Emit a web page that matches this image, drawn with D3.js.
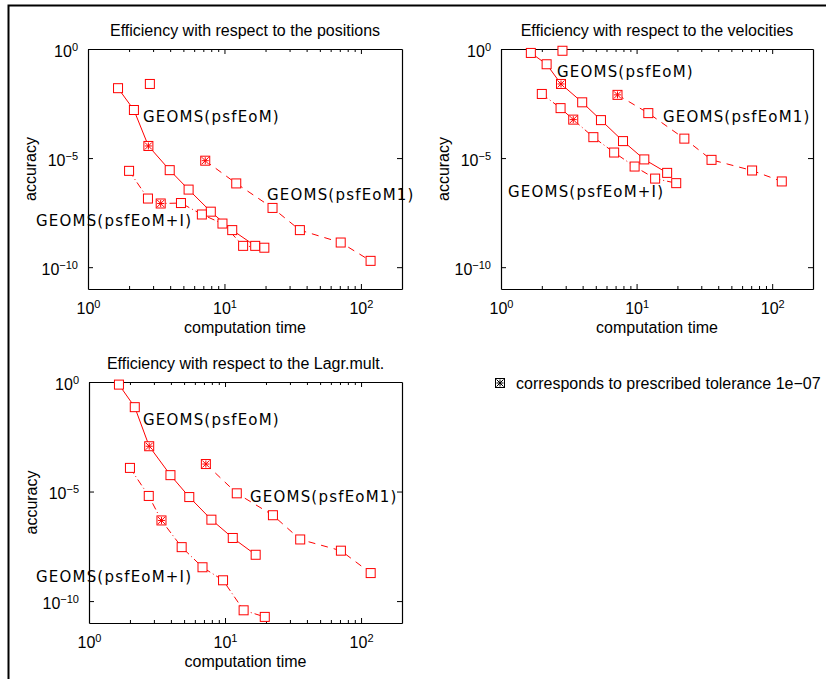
<!DOCTYPE html>
<html>
<head>
<meta charset="utf-8">
<script src="https://cdn.jsdelivr.net/npm/d3@7"></script>
<style>
body { margin: 0; background: #fff; }
svg { display: block; font-family: "Liberation Sans", Arial, sans-serif; }
.axis path, .axis line { stroke: #000; }
.geoms { font-family: "DejaVu Sans", sans-serif; font-size: 15px; letter-spacing: 1.2px; fill: #000; }
</style>
</head>
<body>
<svg width="832" height="679"></svg>
<script>
// computation times (same runs in every panel)
const timesEoM  = [1.66, 2.17, 2.77, 3.97, 5.46, 7.94, 11.4, 16.8]
const timesEoMI = [2.00, 2.75, 3.41, 4.80, 6.83, 9.67, 13.7, 19.6]
const timesEoM1 = [2.84, 7.23, 12.2, 22.5, 35.7, 71.1, 117.7]

// index of the point computed with prescribed tolerance 1e-07
const tolIndexEoM = 2
const tolIndexEoMI = 2
const tolIndexEoM1 = 1

// accuracies, positions
const posEoM  = [1.6e-2, 1.6e-3, 3.6e-5, 2.8e-6, 3.6e-7, 3.5e-8, 5.0e-9, 9.5e-10]
const posEoMI = [2.6e-6, 1.4e-7, 8.3e-8, 8.7e-8, 2.6e-8, 1.0e-8, 9.5e-10, 7.8e-10]
const posEoM1 = [2.5e-2, 7.6e-6, 6.9e-7, 5.2e-8, 5.0e-9, 1.35e-9, 1.95e-10]

// accuracies, velocities
const velEoM  = [0.66, 0.20, 2.5e-2, 3.6e-3, 5.5e-4, 6.0e-5, 8.7e-6, 2.1e-6]
const velEoMI = [8.7e-3, 1.95e-3, 5.8e-4, 9.1e-5, 1.8e-5, 4.1e-6, 1.15e-6, 7.1e-7]
const velEoM1 = [0.83, 7.9e-3, 1.15e-3, 7.8e-5, 8.3e-6, 2.7e-6, 8.5e-7]

// accuracies, Lagrange multipliers (first psfEoM1 run lies off the plot)
const lagEoM  = [0.76, 7.1e-2, 1.17e-3, 5.6e-5, 5.6e-6, 5.2e-7, 7.6e-8, 1.3e-8]
const lagEoMI = [1.2e-4, 6.3e-6, 4.8e-7, 2.9e-8, 3.5e-9, 8.9e-10, 3.8e-11, 1.9e-11]
const lagEoM1 = [null, 1.8e-4, 8.3e-6, 8.3e-7, 6.5e-8, 2.0e-8, 1.9e-9]

const xTicks = [1, 10, 100]
const yTicks = [1, 1e-5, 1e-10]
const xTickExp = ["0", "1", "2"]
const yTickExp = ["0", "\u22125", "\u221210"]

const svg = d3.select("svg")

// outer frame
svg.append("path")
    .attr("d", "M8.5,679 L8.5,5.5 L826,5.5")
    .attr("fill", "none")
    .attr("stroke", "#000")
    .attr("stroke-width", 2)

const panels = [
    {title: "Efficiency with respect to the positions", x0: 88, y0: 49, x1: 402, y1: 289,
     acc: [posEoM, posEoMI, posEoM1],
     labels: [[55, 68], [-52, 172], [179, 146]]},
    {title: "Efficiency with respect to the velocities", x0: 501, y0: 49, x1: 813, y1: 289,
     acc: [velEoM, velEoMI, velEoM1],
     labels: [[56, 23], [7, 143], [162, 68]]},
    {title: "Efficiency with respect to the Lagr.mult.", x0: 89, y0: 382, x1: 402, y1: 623,
     acc: [lagEoM, lagEoMI, lagEoM1],
     labels: [[54, 38], [-53, 195], [161, 115]]}
]

const seriesNames = ["GEOMS(psfEoM)", "GEOMS(psfEoM+I)", "GEOMS(psfEoM1)"]
const seriesTimes = [timesEoM, timesEoMI, timesEoM1]
const seriesTol = [tolIndexEoM, tolIndexEoMI, tolIndexEoM1]
const seriesDash = [null, "7,3,1,3", "7,6"]

const drawMarker = function(g, x, y, color, star) {
    const s = 4.5
    g.append("rect")
        .attr("x", x - s).attr("y", y - s)
        .attr("width", 2 * s).attr("height", 2 * s)
        .attr("fill", "#fff")
        .attr("stroke", color)
    if (star) {
        const r = s - 1
        const d = `M${x - r},${y}L${x + r},${y}M${x},${y - r}L${x},${y + r}` +
            `M${x - r},${y - r}L${x + r},${y + r}M${x - r},${y + r}L${x + r},${y - r}`
        g.append("path").attr("d", d).attr("stroke", color).attr("stroke-width", 1)
    }
}

const superLabel = function(sel, exps) {
    sel.each(function(d, i) {
        const t = d3.select(this)
        t.text("")
        t.append("tspan").text("10")
        t.append("tspan").attr("dy", "-0.55em").attr("font-size", "11px").text(exps[i])
    })
}

panels.forEach((p, pi) => {
    const scaleX = d3.scaleLog().domain([1, 200]).range([p.x0, p.x1])
    const scaleY = d3.scaleLog().domain([1e-11, 1]).range([p.y1, p.y0])
    const w = p.x1 - p.x0
    const h = p.y1 - p.y0
    const g = svg.append("g").attr("class", "panel")

    // clip path for the lines
    g.append("clipPath").attr("id", "clip" + pi)
        .append("rect").attr("x", p.x0).attr("y", p.y0).attr("width", w).attr("height", h)

    // title
    g.append("text")
        .attr("x", (p.x0 + p.x1) / 2).attr("y", p.y0 - 13)
        .attr("text-anchor", "middle").attr("font-size", "16px")
        .text(p.title)

    // minor x ticks (inward, bottom and top)
    const minor = []
    for (let dec = 1; dec <= 100; dec *= 10)
        for (let k = 2; k <= 9; k++) if (k * dec < 200) minor.push(k * dec)

    g.append("g").attr("class", "axis")
        .attr("transform", `translate(0,${p.y1})`)
        .call(d3.axisBottom(scaleX).tickValues(minor).tickSize(-3).tickFormat(""))
        .call(a => a.select(".domain").remove())
    g.append("g").attr("class", "axis")
        .attr("transform", `translate(0,${p.y0})`)
        .call(d3.axisTop(scaleX).tickValues(minor).tickSize(-3).tickFormat(""))
        .call(a => a.select(".domain").remove())

    // major ticks
    const xb = g.append("g").attr("class", "axis")
        .attr("transform", `translate(0,${p.y1})`)
        .call(d3.axisBottom(scaleX).tickValues(xTicks).tickSize(-5).tickSizeOuter(0).tickPadding(14))
    xb.selectAll("text").attr("font-size", "16px").attr("font-family", "Liberation Sans, Arial, sans-serif")
        .attr("fill", "#000").call(superLabel, xTickExp)
    g.append("g").attr("class", "axis")
        .attr("transform", `translate(0,${p.y0})`)
        .call(d3.axisTop(scaleX).tickValues(xTicks).tickSize(-5).tickSizeOuter(0).tickFormat(""))

    const yl = g.append("g").attr("class", "axis")
        .attr("transform", `translate(${p.x0},0)`)
        .call(d3.axisLeft(scaleY).tickValues(yTicks).tickSize(-5).tickSizeOuter(0).tickPadding(10))
    yl.selectAll("text").attr("font-size", "16px").attr("font-family", "Liberation Sans, Arial, sans-serif")
        .attr("fill", "#000").attr("dy", "0.45em").call(superLabel, yTickExp)
    g.append("g").attr("class", "axis")
        .attr("transform", `translate(${p.x1},0)`)
        .call(d3.axisRight(scaleY).tickValues(yTicks).tickSize(-5).tickSizeOuter(0).tickFormat(""))

    g.selectAll(".axis .domain").attr("stroke-width", 1.2)

    // axis titles
    g.append("text")
        .attr("x", (p.x0 + p.x1) / 2).attr("y", p.y1 + 44)
        .attr("text-anchor", "middle").attr("font-size", "16px")
        .text("computation time")
    g.append("text")
        .attr("transform", `translate(${p.x0 - 52},${(p.y0 + p.y1) / 2}) rotate(-90)`)
        .attr("text-anchor", "middle").attr("font-size", "16px")
        .text("accuracy")

    // series: lines clipped to the box, markers drawn in full
    const lineG = g.append("g").attr("clip-path", `url(#clip${pi})`)
    const markG = g.append("g")
    p.acc.forEach((acc, si) => {
        const pts = seriesTimes[si].map((t, i) => ({t: t, a: acc[i], i: i}))
            .filter(d => d.a !== null)
        // the first psfEoM1 run is not joined to the rest
        const joined = si === 2 ? pts.filter(d => d.i >= 1) : pts
        lineG.append("path")
            .datum(joined)
            .attr("d", d3.line().x(d => scaleX(d.t)).y(d => scaleY(d.a)))
            .attr("fill", "none")
            .attr("stroke", "#f00")
            .attr("stroke-width", 1)
            .attr("stroke-dasharray", seriesDash[si])
        pts.forEach(d => drawMarker(markG, scaleX(d.t), scaleY(d.a), "#f00", d.i === seriesTol[si]))
    })

    // series labels
    p.labels.forEach((l, si) => {
        g.append("text").attr("class", "geoms")
            .attr("x", p.x0 + l[0]).attr("y", p.y0 + l[1])
            .attr("dy", "0.35em")
            .text(seriesNames[si])
    })
})

// legend
const lg = svg.append("g")
drawMarker(lg, 500, 383, "#000", true)
lg.append("text").attr("x", 516).attr("y", 388.5).attr("font-size", "16px")
    .text("corresponds to prescribed tolerance 1e\u221207")
</script>
</body>
</html>
